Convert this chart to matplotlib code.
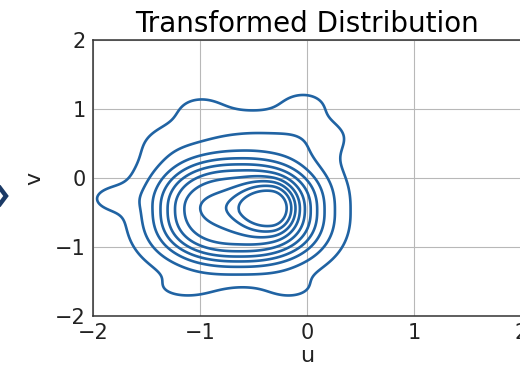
import numpy as np
import matplotlib
matplotlib.use("Agg")
import matplotlib.pyplot as plt
from matplotlib.lines import Line2D

# ── Values ───────────────────────────────────────────────────────────────────
levels = [0.03, 0.10, 0.20, 0.30, 0.40, 0.50, 0.60, 0.70, 0.80, 0.90]

# flat-topped main body: half-height edges (left, right, bottom, top) and softness
body_edges = [-1.33, 0.06, -1.17, 0.22]
body_soft  = [0.17, 0.16, 0.18, 0.20]
body_height = 0.71
body_shape  = 2.4

# sharp peak inside the body (u, v, width left, width right, width v, height, sharpness)
peak = [-0.33, -0.43, 0.26, 0.17, 0.28, 0.34, 1.4]

# smaller bumps shaping the contours (u, v, width u, width v, height)
bump_u  = [-0.45, -1.00, -0.03, -1.80, -1.15, -0.15, -0.75, -1.30, -0.05]
bump_v  = [ 0.62,  1.02,  1.08, -0.30, -1.60, -1.60, -0.42,  0.45,  0.50]
bump_su = [ 0.55,  0.20,  0.18,  0.18,  0.25,  0.20,  0.25,  0.20,  0.18]
bump_sv = [ 0.25,  0.18,  0.16,  0.15,  0.15,  0.15,  0.15,  0.20,  0.22]
bump_h  = [ 0.07,  0.03,  0.035, 0.04,  0.03,  0.03,  0.05,  0.02,  0.025]

x_ticks = [-2, -1, 0, 1, 2]
y_ticks = [-2, -1, 0, 1, 2]

# ── Density field ────────────────────────────────────────────────────────────
U, V = np.meshgrid(np.linspace(-2.2, 1.0, 500), np.linspace(-2.2, 2.2, 500))

cu = 0.5 * (body_edges[0] + body_edges[1]); a = 0.5 * (body_edges[1] - body_edges[0])
cv = 0.5 * (body_edges[2] + body_edges[3]); b = 0.5 * (body_edges[3] - body_edges[2])
xn, yn = (U - cu) / a, (V - cv) / b
rho = (np.abs(xn)**body_shape + np.abs(yn)**body_shape) ** (1 / body_shape)
s_h = np.where(xn < 0, body_soft[0], body_soft[1])
s_v = np.where(yn < 0, body_soft[2], body_soft[3])
wt = xn**2 / (xn**2 + yn**2 + 1e-12)
soft = wt * s_h + (1 - wt) * s_v
Z = body_height / (1 + np.exp((rho - 1) / soft))

pu, pv, psl, psr, psv, ph, pg = peak
su_peak = np.where(U < pu, psl, psr)
q = ((U - pu) / su_peak)**2 + ((V - pv) / psv)**2
Z += ph * np.exp(-0.5 * q**pg)

for bu, bv, su, sv, h in zip(bump_u, bump_v, bump_su, bump_sv, bump_h):
    Z += h * np.exp(-0.5 * (((U - bu) / su)**2 + ((V - bv) / sv)**2))

# ── Plot ─────────────────────────────────────────────────────────────────────
fig = plt.figure(figsize=(5.2, 3.73), dpi=100)
ax = fig.add_axes([93/520, 57/373, 428/520, 276/373])

ax.contour(U, V, Z, levels=levels, colors="#2063a3", linewidths=1.9)

ax.set_xlim(-2, 2); ax.set_ylim(-2, 2)
ax.set_xticks(x_ticks); ax.set_yticks(y_ticks)
ax.grid(True, color="#b8b8b8", lw=0.8)
ax.set_axisbelow(True)
ax.tick_params(length=0, labelsize=15, pad=5, colors="#222222")
for s in ax.spines.values():
    s.set_color("#333333"); s.set_linewidth(1.1)

ax.set_xlabel("u", fontsize=16, labelpad=2, color="#222222")
ax.set_ylabel("v", fontsize=16, labelpad=8, color="#222222")
ax.set_title("Transformed Distribution", fontsize=20, pad=6)

# edge of the neighbouring arrow
fig.add_artist(Line2D([0/520, 6/520, 0/520], [1 - 188/373, 1 - 196/373, 1 - 204/373],
                      transform=fig.transFigure, color="#1b3a66", lw=3.2,
                      solid_joinstyle="miter"))

fig.savefig("out.png", dpi=100)
